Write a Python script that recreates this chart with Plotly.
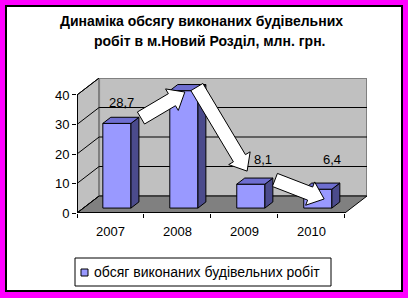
import plotly.graph_objects as go
import math

# ---- data ----
years = ["2007", "2008", "2009", "2010"]
values = [28.7, 39.8, 8.1, 6.4]
value_labels = ["28,7", "39,8", "8,1", "6,4"]
y_ticks = [0, 10, 20, 30, 40]
series_name = "обсяг виконаних будівельних робіт"
title_line1 = "Динаміка обсягу виконаних будівельних"
title_line2 = "робіт в м.Новий Розділ, млн. грн."

# ---- geometry / style ----
W, H = 408, 298
ML, MR, MT, MB = 77, 41, 78, 85
PW, PH = W - ML - MR, H - MT - MB
DX, DY = 0.33, 5.76          # oblique depth in data units
YMAX = 40
XR = [0, len(years) + DX]
YR = [0, YMAX + DY]
XS = PW / XR[1]
YS = PH / YR[1]
HW, D0, D1 = 0.21, 0.29, 0.65  # bar half width, depth range
FONT = "Liberation Sans, Arial, sans-serif"
C_FRONT, C_SIDE, C_TOP = "#9999FF", "#4B4B8C", "#6E6ED0"
C_WALL, C_FLOOR, C_EDGE = "#C0C0C0", "#808080", "#808080"

label_dx = [0.17, 0.17, 0.28, 0.31]
label_dy = [8.6, 6.3, 9.9, 11.6]
arrow_tail_off = [(0.455, 3.5), (0.29, 2.9), (0.455, 3.1)]
arrow_tip_off = [(0.11, 1.2), (0.04, 6.1), (0.19, -1.65)]
SHAFT, HEADW, HEADL = 14, 25, 15

def to_px(x, y):
    return ML + x * XS, MT + PH - y * YS

def to_data(px, py):
    return (px - ML) / XS, (MT + PH - py) / YS

def xp(px):
    return (px - ML) / PW

def yp(py):
    return (MT + PH - py) / PH

fig = go.Figure()

def poly(xs, ys, fill, line_color="black", lw=1):
    fig.add_trace(go.Scatter(
        x=list(xs) + [xs[0]], y=list(ys) + [ys[0]], mode="lines",
        fill="toself" if fill else None, fillcolor=fill,
        line=dict(color=line_color, width=lw), hoverinfo="skip", showlegend=False))

def seg(xs, ys, color="black", lw=1):
    fig.add_trace(go.Scatter(x=xs, y=ys, mode="lines", line=dict(color=color, width=lw),
                             hoverinfo="skip", showlegend=False))

n = len(years)
# side wall
poly([0, DX, DX, 0], [0, DY, YMAX + DY, YMAX], C_WALL, "black")
# back wall
poly([DX, n + DX, n + DX, DX], [DY, DY, YMAX + DY, YMAX + DY], C_WALL, C_EDGE, 2)
# floor
poly([0, n, n + DX, DX], [0, 0, DY, DY], C_FLOOR, "black")
# gridlines
for v in y_ticks[1:]:
    seg([0, DX], [v, v + DY])
    if v < YMAX:
        seg([DX, n + DX], [v + DY, v + DY])
seg([0, DX], [0, DY])
# axis lines
seg([0, 0], [0, YMAX], "black", 2)
seg([0, n], [0, 0], "black", 2)

# bars
for i, v in enumerate(values):
    xc = i + 0.5
    xl, xr = xc - HW, xc + HW
    poly([xl + D0 * DX, xr + D0 * DX, xr + D0 * DX, xl + D0 * DX],
         [D0 * DY, D0 * DY, v + D0 * DY, v + D0 * DY], C_FRONT)
    poly([xr + D0 * DX, xr + D1 * DX, xr + D1 * DX, xr + D0 * DX],
         [D0 * DY, D1 * DY, v + D1 * DY, v + D0 * DY], C_SIDE)
    poly([xl + D0 * DX, xr + D0 * DX, xr + D1 * DX, xl + D1 * DX],
         [v + D0 * DY, v + D0 * DY, v + D1 * DY, v + D1 * DY], C_TOP)

# arrows
for i in range(n - 1):
    tx, ty = to_px(i + 0.5 + arrow_tail_off[i][0], values[i] + arrow_tail_off[i][1])
    hx, hy = to_px(i + 1.5 + arrow_tip_off[i][0], values[i + 1] + arrow_tip_off[i][1])
    L = math.hypot(hx - tx, hy - ty)
    ux, uy = (hx - tx) / L, (hy - ty) / L
    nx, ny = -uy, ux
    bx, by = hx - ux * HEADL, hy - uy * HEADL
    pts = [(tx + nx * SHAFT / 2, ty + ny * SHAFT / 2),
           (bx + nx * SHAFT / 2, by + ny * SHAFT / 2),
           (bx + nx * HEADW / 2, by + ny * HEADW / 2),
           (hx, hy),
           (bx - nx * HEADW / 2, by - ny * HEADW / 2),
           (bx - nx * SHAFT / 2, by - ny * SHAFT / 2),
           (tx - nx * SHAFT / 2, ty - ny * SHAFT / 2)]
    d = [to_data(px, py) for px, py in pts]
    poly([p[0] for p in d], [p[1] for p in d], "white", "black")

annotations = []
for i, v in enumerate(values):
    annotations.append(dict(x=i + 0.5 + label_dx[i], y=v + label_dy[i], xref="x", yref="y",
                            xanchor="center", yanchor="middle",
                            text=value_labels[i], showarrow=False,
                            font=dict(family=FONT, size=13, color="black")))
annotations.append(dict(x=xp(201), y=yp(21), xref="paper", yref="paper", text="<b>" + title_line1 + "</b>",
                        xanchor="center", yanchor="middle",
                        showarrow=False, font=dict(family=FONT, size=14, color="black")))
annotations.append(dict(x=xp(209), y=yp(41), xref="paper", yref="paper", text="<b>" + title_line2 + "</b>",
                        xanchor="center", yanchor="middle",
                        showarrow=False, font=dict(family=FONT, size=14, color="black")))
annotations.append(dict(x=xp(92), y=yp(272), xref="paper", yref="paper", text=series_name,
                        xanchor="left", yanchor="middle",
                        showarrow=False, font=dict(family=FONT, size=14, color="black")))

shapes = [
    dict(type="rect", xref="paper", yref="paper", x0=xp(6), x1=xp(402), y0=yp(6), y1=yp(291),
         fillcolor="white", line=dict(color="black", width=2), layer="below"),
    dict(type="rect", xref="paper", yref="paper", x0=xp(75), x1=xp(331), y0=yp(258), y1=yp(286),
         fillcolor="rgba(0,0,0,0)", line=dict(color="black", width=1), layer="above"),
    dict(type="rect", xref="paper", yref="paper", x0=xp(81), x1=xp(88), y0=yp(269), y1=yp(276),
         fillcolor=C_FRONT, line=dict(color="black", width=1), layer="above"),
]

fig.update_layout(
    width=W, height=H, margin=dict(l=ML, r=MR, t=MT, b=MB, pad=0),
    paper_bgcolor="#FF00FF", plot_bgcolor="rgba(0,0,0,0)",
    showlegend=False, annotations=annotations, shapes=shapes,
    xaxis=dict(range=XR, showgrid=False, zeroline=False, showline=False,
               tickvals=[i + 0.5 for i in range(n)], ticktext=years, ticks="",
               ticklabelstandoff=9,
               tickfont=dict(family=FONT, size=13, color="black"),
               minor=dict(tickvals=list(range(n + 1)), ticks="outside", ticklen=4,
                          tickcolor="black", showgrid=False),
               fixedrange=True),
    yaxis=dict(range=YR, showgrid=False, zeroline=False, showline=False,
               tickvals=y_ticks, ticks="outside", ticklen=4, tickcolor="black",
               tickfont=dict(family=FONT, size=13, color="black"), fixedrange=True),
)
fig.write_html("out.html")
